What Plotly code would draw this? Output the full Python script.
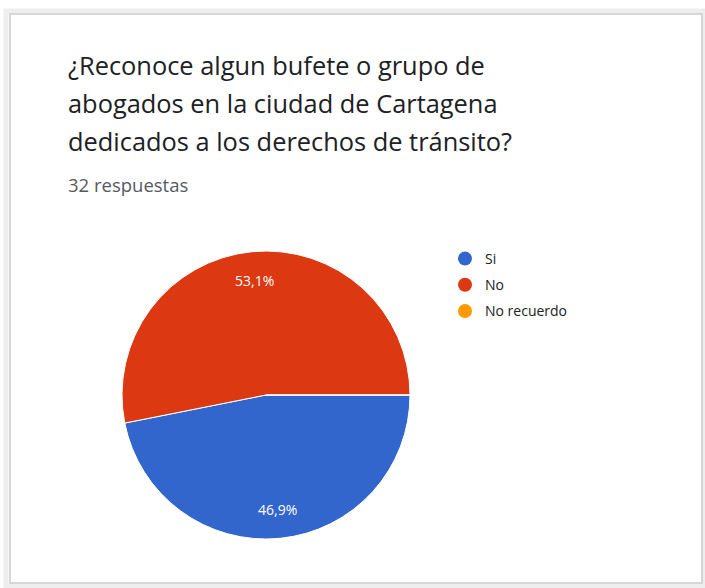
import math
import plotly.graph_objects as go

# Survey answers
labels = ["Si", "No", "No recuerdo"]
counts = [15, 17, 0]
colors = ["#3366cc", "#dc3912", "#ff9900"]

title_lines = [
    "¿Reconoce algun bufete o grupo de",
    "abogados en la ciudad de Cartagena",
    "dedicados a los derechos de tránsito?",
]
subtitle = "32 respuestas"

W, H = 705, 588
FONT = "'Open Sans', Roboto, Arial, sans-serif"

# Pie placement (pixels)
cx, cy, r = 266, 395, 144

fig = go.Figure()

fig.add_trace(go.Pie(
    labels=labels,
    values=counts,
    marker=dict(colors=colors, line=dict(color="#ffffff", width=1)),
    sort=False,
    direction="clockwise",
    rotation=90,
    textinfo="none",
    hoverinfo="label+percent",
    showlegend=False,
    domain=dict(x=[(cx - r) / W, (cx + r) / W],
                y=[1 - (cy + r) / H, 1 - (cy - r) / H]),
))

# Legend entries with round markers
for i, (lab, col) in enumerate(zip(labels, colors)):
    fig.add_trace(go.Scatter(
        x=[None], y=[None], mode="markers", name=lab,
        legendgroup=f"g{i}",
        marker=dict(symbol="circle", size=14, color=col),
    ))

# Percentage labels placed along each slice's mid-angle
total = sum(counts)
start = 90.0
annotations = []
for v in counts:
    sweep = 360.0 * v / total
    if v > 0:
        mid = math.radians(start + sweep / 2)
        rr = 0.8 * r
        px = cx + rr * math.sin(mid)
        py = cy - rr * math.cos(mid)
        pct = f"{100 * v / total:.1f}".replace(".", ",") + "%"
        annotations.append(dict(
            x=px / W, y=1 - py / H, xref="paper", yref="paper",
            text=pct, showarrow=False, xanchor="center", yanchor="middle",
            font=dict(family=FONT, size=14, color="#ffffff"),
        ))
    start += sweep

# Title block
for i, line in enumerate(title_lines):
    annotations.append(dict(
        x=66 / W, y=1 - (65 + 38 * i) / H, xref="paper", yref="paper",
        text=line, showarrow=False, xanchor="left", yanchor="middle",
        font=dict(family=FONT, size=25.4, color="#202124"),
    ))
annotations.append(dict(
    x=66 / W, y=1 - 184 / H, xref="paper", yref="paper",
    text=subtitle, showarrow=False, xanchor="left", yanchor="middle",
    font=dict(family=FONT, size=18.5, color="#555a5f"),
))

# Card outline with a soft shadow
shapes = [
    dict(type="rect", xref="paper", yref="paper",
         x0=6 / W, x1=704 / W, y0=1 - 586 / H, y1=1 - 11 / H,
         line=dict(color="#eeeeee", width=5), layer="below"),
    dict(type="rect", xref="paper", yref="paper",
         x0=10 / W, x1=702 / W, y0=1 - 583 / H, y1=1 - 14 / H,
         line=dict(color="#cccccc", width=1.5), layer="below"),
]

fig.update_layout(
    width=W, height=H,
    margin=dict(l=0, r=0, t=0, b=0),
    paper_bgcolor="#ffffff",
    plot_bgcolor="#ffffff",
    xaxis=dict(visible=False),
    yaxis=dict(visible=False),
    annotations=annotations,
    shapes=shapes,
    legend=dict(
        x=445 / W, y=1 - 243 / H, xanchor="left", yanchor="top",
        font=dict(family=FONT, size=14, color="#202124"),
        tracegroupgap=5,
        bgcolor="rgba(0,0,0,0)",
    ),
)

fig.write_html("out.html")
